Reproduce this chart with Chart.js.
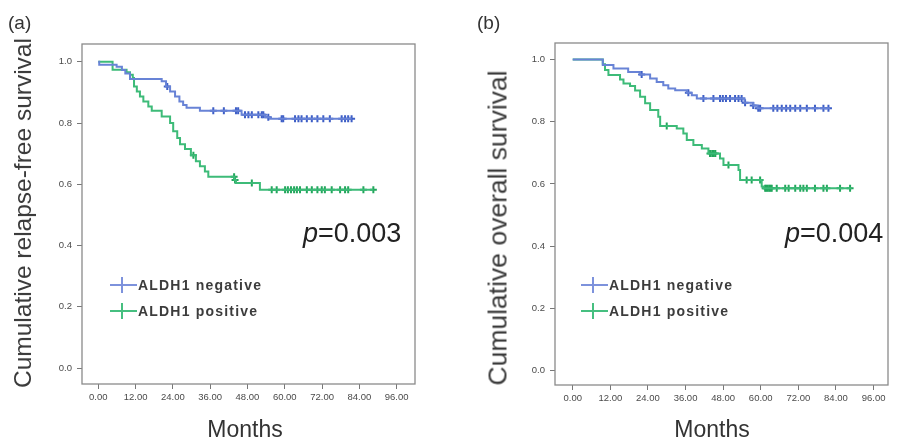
<!DOCTYPE html>
<html>
<head>
<meta charset="utf-8">
<script src="https://cdn.jsdelivr.net/npm/chart.js@4.4.1/dist/chart.umd.min.js"></script>
<style>
  body { margin: 0; width: 899px; height: 443px; overflow: hidden; position: relative; background: #fff;
         font-family: "Liberation Sans", Arial, sans-serif; }
  canvas { position: absolute; left: 0; top: 0; }
  .txt { position: absolute; white-space: nowrap; color: #333; }
  .ytitle { position: absolute; white-space: nowrap; color: #3a3a3a; transform: translate(-50%, -50%) rotate(-90deg); }
  .pval { position: absolute; white-space: nowrap; color: #222; font-size: 27px; line-height: 27px; }
  .leg { position: absolute; white-space: nowrap; color: #3c3c3c; font-size: 14px; font-weight: bold;
         letter-spacing: 1.2px; line-height: 14px; }
  .mk { position: absolute; }
</style>
</head>
<body>
<canvas id="chartA" width="899" height="443"></canvas>
<canvas id="chartB" width="899" height="443"></canvas>

<div class="txt" style="left:8px;top:13px;font-size:19px;line-height:19px;">(a)</div>
<div class="txt" style="left:477px;top:13px;font-size:19px;line-height:19px;">(b)</div>
<div class="ytitle" style="left:23px;top:213px;font-size:24.5px;">Cumulative relapse-free survival</div>
<div class="ytitle" style="left:498px;top:228px;font-size:26.5px;">Cumulative overall survival</div>
<div class="txt" style="left:245px;top:418px;font-size:23px;line-height:23px;transform:translateX(-50%);">Months</div>
<div class="txt" style="left:712px;top:418px;font-size:23px;line-height:23px;transform:translateX(-50%);">Months</div>
<div class="pval" style="left:303px;top:220px;"><i>p</i>=0.003</div>
<div class="pval" style="left:785px;top:220px;"><i>p</i>=0.004</div>
<div id="legends"></div>

<script>
// panel (a): relapse-free survival
const negTimesA = [0, 0.3, 5.9, 7.6, 8.7, 10.2, 20.4, 21.8, 23.1, 24.7, 26.1, 27.3, 28.4, 32.7, 46.1, 53.6, 55.2, 81.5];
const negSurvA  = [1.0, 0.99, 0.984, 0.973, 0.962, 0.944, 0.936, 0.919, 0.903, 0.887, 0.870, 0.859, 0.850, 0.840, 0.827, 0.819, 0.814, 0.814];
const negCensA  = [22.2, 37.0, 40.4, 44.3, 45.0, 47.2, 48.3, 49.4, 51.5, 52.6, 53.1, 54.7, 59.0, 59.5, 63.3, 64.4, 65.4, 67.1, 68.7, 70.5, 72.4, 74.5, 78.3, 79.4, 80.4, 81.5];

const posTimesA = [0, 4.6, 9.1, 10.2, 11.1, 11.5, 12.4, 13.4, 14.5, 16.1, 17.2, 20.4, 23.1, 24.1, 25.4, 26.3, 27.9, 29.8, 31.4, 32.7, 34.3, 35.4, 43.8, 44.3, 52.0, 88.5];
const posSurvA  = [1.0, 0.974, 0.966, 0.958, 0.947, 0.919, 0.903, 0.887, 0.870, 0.854, 0.840, 0.821, 0.800, 0.773, 0.751, 0.731, 0.715, 0.695, 0.675, 0.659, 0.642, 0.625, 0.614, 0.604, 0.582, 0.582];
const posCensA  = [30.6, 43.7, 44.0, 49.4, 55.8, 57.4, 60.1, 61.0, 62.0, 63.0, 63.9, 64.9, 67.1, 68.7, 70.5, 71.9, 72.9, 75.1, 77.8, 79.4, 80.4, 85.3, 88.5];

// panel (b): overall survival
const negTimesB = [0, 9.6, 13.0, 17.7, 21.5, 24.7, 26.8, 28.9, 30.5, 32.7, 36.4, 38.0, 39.6, 54.8, 57.6, 59.0, 82.1];
const negSurvB  = [1.0, 0.982, 0.971, 0.960, 0.952, 0.939, 0.928, 0.917, 0.907, 0.901, 0.893, 0.885, 0.875, 0.861, 0.852, 0.843, 0.843];
const negCensB  = [22.0, 36.9, 41.7, 44.9, 47.0, 47.9, 48.9, 50.2, 51.8, 52.9, 53.9, 55.0, 57.6, 59.2, 59.8, 64.0, 65.3, 66.7, 68.1, 69.4, 71.0, 72.6, 74.7, 77.3, 80.0, 81.6];

const posTimesB = [0, 9.6, 10.3, 11.4, 15.1, 16.2, 18.3, 19.9, 21.5, 23.1, 24.7, 27.3, 27.9, 33.2, 35.3, 36.4, 38.5, 41.2, 43.3, 47.0, 48.1, 52.9, 53.4, 60.3, 60.8, 89.0];
const posSurvB  = [1.0, 0.985, 0.966, 0.950, 0.936, 0.923, 0.915, 0.900, 0.880, 0.859, 0.838, 0.816, 0.786, 0.778, 0.762, 0.741, 0.725, 0.714, 0.698, 0.682, 0.661, 0.645, 0.613, 0.592, 0.586, 0.586];
const posCensB  = [30.0, 43.8, 44.5, 45.0, 45.5, 49.7, 55.5, 57.1, 59.8, 61.4, 61.8, 62.2, 62.7, 63.1, 63.5, 65.1, 67.8, 68.9, 71.0, 72.6, 73.6, 74.7, 77.3, 80.0, 81.1, 85.3, 88.5];

const monthTicks = [0, 12, 24, 36, 48, 60, 72, 84, 96];
const survTicks = [0, 0.2, 0.4, 0.6, 0.8, 1.0];
const groupNames = ['ALDH1 negative', 'ALDH1 positive'];

const blueLine = '#6883d6', blueMark = '#3d5ec6';
const greenLine = '#3dbb78', greenMark = '#22a75c';

// survival value of a step curve at time t
function survAt(times, surv, t) {
    let s = surv[0];
    for (let i = 0; i < times.length; i++) {
        if (times[i] <= t) s = surv[i];
    }
    return s;
}

function toPoints(times, surv) {
    return times.map((t, i) => ({ x: t, y: surv[i] }));
}

function censPoints(cens, times, surv) {
    return cens.map(t => ({ x: t, y: survAt(times, surv, t) }));
}

// grey box around the plot area
const framePlugin = {
    id: 'frame',
    afterDraw(chart) {
        const a = chart.chartArea;
        const ctx = chart.ctx;
        ctx.save();
        ctx.strokeStyle = '#8a8a8a';
        ctx.lineWidth = 1.3;
        ctx.strokeRect(a.left, a.top, a.right - a.left, a.bottom - a.top);
        ctx.restore();
    }
};

function makeChart(id, cfg) {
    const ctx = document.getElementById(id).getContext('2d');
    return new Chart(ctx, {
        type: 'line',
        data: {
            datasets: [
                { data: toPoints(cfg.negT, cfg.negS), stepped: true, borderColor: blueLine, borderWidth: 2, pointRadius: 0 },
                { data: toPoints(cfg.posT, cfg.posS), stepped: true, borderColor: greenLine, borderWidth: 2, pointRadius: 0 },
                { data: censPoints(cfg.negC, cfg.negT, cfg.negS), showLine: false, pointStyle: 'cross',
                  pointRadius: 3.5, borderColor: blueMark, pointBorderWidth: 2 },
                { data: censPoints(cfg.posC, cfg.posT, cfg.posS), showLine: false, pointStyle: 'cross',
                  pointRadius: 3.5, borderColor: greenMark, pointBorderWidth: 2 }
            ]
        },
        options: {
            responsive: false,
            animation: false,
            devicePixelRatio: 1,
            layout: { padding: cfg.padding },
            plugins: { legend: { display: false }, tooltip: { enabled: false } },
            scales: {
                x: {
                    type: 'linear',
                    min: cfg.xMin, max: cfg.xMax,
                    afterBuildTicks: s => { s.ticks = monthTicks.map(v => ({ value: v })); },
                    afterFit: s => { s.height = cfg.xHeight; },
                    border: { display: false },
                    grid: { drawOnChartArea: false, drawTicks: true, tickLength: 5, color: '#777', lineWidth: 1 },
                    ticks: { callback: v => v.toFixed(2), font: { size: 9.5, family: 'Liberation Sans' },
                             color: '#4a4a4a', padding: 3, maxRotation: 0, autoSkip: false }
                },
                y: {
                    type: 'linear',
                    min: cfg.yMin, max: cfg.yMax,
                    afterBuildTicks: s => { s.ticks = survTicks.map(v => ({ value: v })); },
                    afterFit: s => { s.width = 82; },
                    border: { display: false },
                    grid: { drawOnChartArea: false, drawTicks: true, tickLength: 5, color: '#777', lineWidth: 1 },
                    ticks: { callback: v => v.toFixed(1), font: { size: 9.5, family: 'Liberation Sans' },
                             color: '#4a4a4a', padding: 5 }
                }
            }
        },
        plugins: [framePlugin]
    });
}

makeChart('chartA', {
    negT: negTimesA, negS: negSurvA, negC: negCensA,
    posT: posTimesA, posS: posSurvA, posC: posCensA,
    padding: { left: 0, top: 44, right: 484, bottom: 0 },
    xHeight: 59, xMin: -5.24, xMax: 101.9, yMin: -0.052, yMax: 1.058
});

makeChart('chartB', {
    negT: negTimesB, negS: negSurvB, negC: negCensB,
    posT: posTimesB, posS: posSurvB, posC: posCensB,
    padding: { left: 473, top: 43, right: 11, bottom: 0 },
    xHeight: 58, xMin: -5.65, xMax: 100.6, yMin: -0.046, yMax: 1.053
});

// legends drawn as html so the text stays text
function addLegend(x, rows) {
    const holder = document.getElementById('legends');
    const colors = ['#7d92dc', '#46bf80'];
    rows.forEach((y, i) => {
        const h = document.createElement('div');
        h.className = 'mk';
        h.style.cssText = `left:${x}px;top:${y - 1}px;width:27px;height:2px;background:${colors[i]};`;
        const v = document.createElement('div');
        v.className = 'mk';
        v.style.cssText = `left:${x + 11}px;top:${y - 8}px;width:2px;height:16px;background:${colors[i]};`;
        const t = document.createElement('div');
        t.className = 'leg';
        t.style.cssText = `left:${x + 28}px;top:${y - 7}px;`;
        t.textContent = groupNames[i];
        holder.append(h, v, t);
    });
}
addLegend(110, [285, 311]);
addLegend(581, [285, 311]);
</script>
</body>
</html>
